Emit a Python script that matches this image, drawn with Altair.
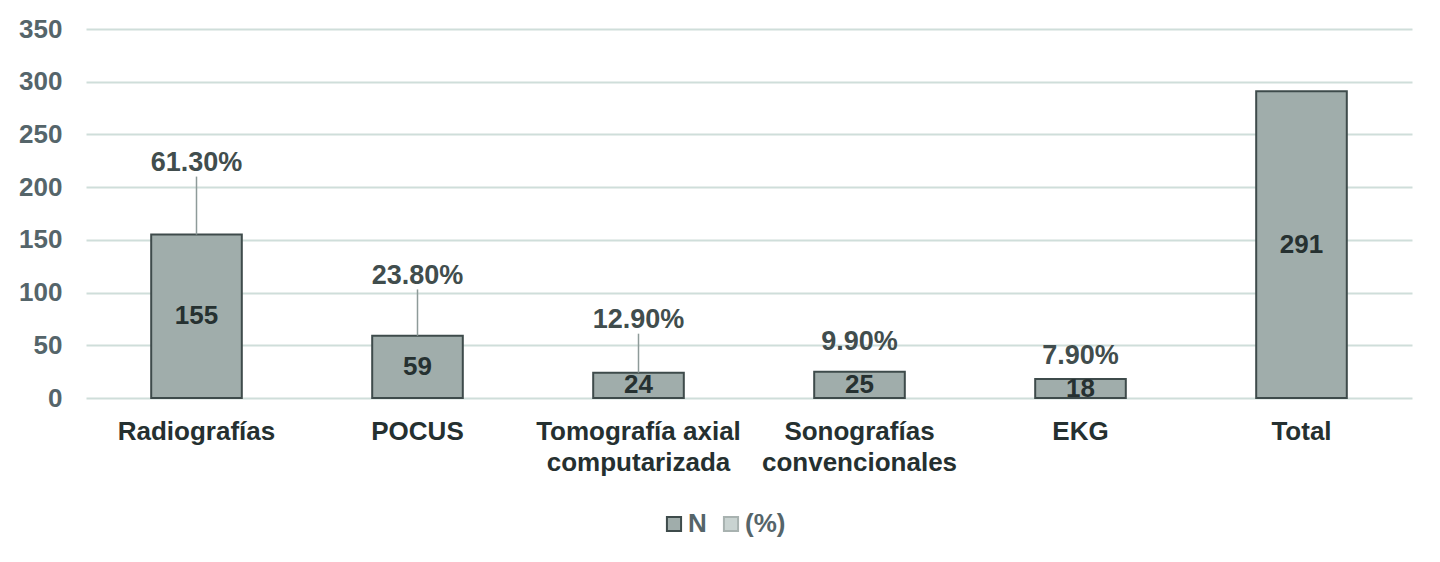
import altair as alt
import pandas as pd

categories = ["Radiografías", "POCUS", "Tomografía axial|computarizada",
              "Sonografías|convencionales", "EKG", "Total"]
n_values = [155, 59, 24, 25, 18, 291]
pct_values = [61.3, 23.8, 12.9, 9.9, 7.9, None]
series = ["N", "(%)"]

# where Excel put the % labels, lifted above each bar (data units)
pct_lift = [68, 57, 50, 28, 22, 0]
has_leader = [True, True, True, False, False, False]

df = pd.DataFrame({
    "cat": categories,
    "N": n_values,
    "pct": pct_values,
    "lift": pct_lift,
    "leader": has_leader,
})
df["series"] = "N"
df["half"] = df["N"] / 2
df["pct_y"] = df["N"] + df["lift"]
df["lead_top"] = df["pct_y"] - 13
df["pct_txt"] = df["pct"].map(lambda v: "" if pd.isna(v) else f"{v:.2f}%")

FONT = "Liberation Sans"
x = alt.X("cat:N", sort=categories, title=None,
          scale=alt.Scale(paddingInner=0.59, paddingOuter=0.295),
          axis=alt.Axis(labelExpr="split(datum.label, '|')", labelAngle=0,
                        labelFontSize=26, labelFont=FONT, labelFontWeight="bold",
                        labelColor="#253030", labelPadding=20, labelLineHeight=31,
                        labelLimit=400, domain=False, ticks=False, grid=False))
y = alt.Y("N:Q", title=None,
          scale=alt.Scale(domain=[0, 350], nice=False),
          axis=alt.Axis(values=list(range(0, 351, 50)), labelFontSize=26,
                        labelFont=FONT, labelFontWeight="bold", labelColor="#55656A",
                        labelPadding=24, domain=False, ticks=False,
                        gridColor="#CFDEDA", gridWidth=2))

base = alt.Chart(df)

bars = base.mark_bar(strokeWidth=2).encode(
    x=x,
    y=y,
    color=alt.Color("series:N", title=None,
                    scale=alt.Scale(domain=series, range=["#A0ADAB", "#C9D3D1"]),
                    legend=alt.Legend(orient="none", legendX=575, legendY=482,
                                      direction="horizontal",
                                      labelFontSize=26, labelFont=FONT,
                                      labelFontWeight="bold", labelColor="#55656A",
                                      symbolType="square", symbolSize=200,
                                      symbolStrokeWidth=2, columnPadding=11,
                                      labelOffset=1)),
    stroke=alt.Stroke("series:N", title=None,
                      scale=alt.Scale(domain=series, range=["#3E4B4B", "#A8B2B0"])),
)

inner = base.mark_text(font=FONT, fontSize=26, fontWeight="bold",
                       color="#263131").encode(
    x=alt.X("cat:N", sort=categories),
    y="half:Q",
    text="N:Q",
)

leaders = base.transform_filter("datum.leader").mark_rule(
    color="#8E9B99", strokeWidth=1.5).encode(
    x=alt.X("cat:N", sort=categories),
    y="N:Q",
    y2="lead_top:Q",
)

pct_text = base.mark_text(font=FONT, fontSize=27, fontWeight="bold",
                          color="#414D4D").encode(
    x=alt.X("cat:N", sort=categories),
    y="pct_y:Q",
    text="pct_txt:N",
)

chart = (
    alt.layer(bars, leaders, inner, pct_text)
    .properties(width=1326, height=369,
                padding={"left": 10, "top": 8, "right": 10, "bottom": 5})
    .configure(background="white")
    .configure_view(stroke=None)
)

chart.save("out.html", embed_options={"renderer": "svg", "actions": False})
